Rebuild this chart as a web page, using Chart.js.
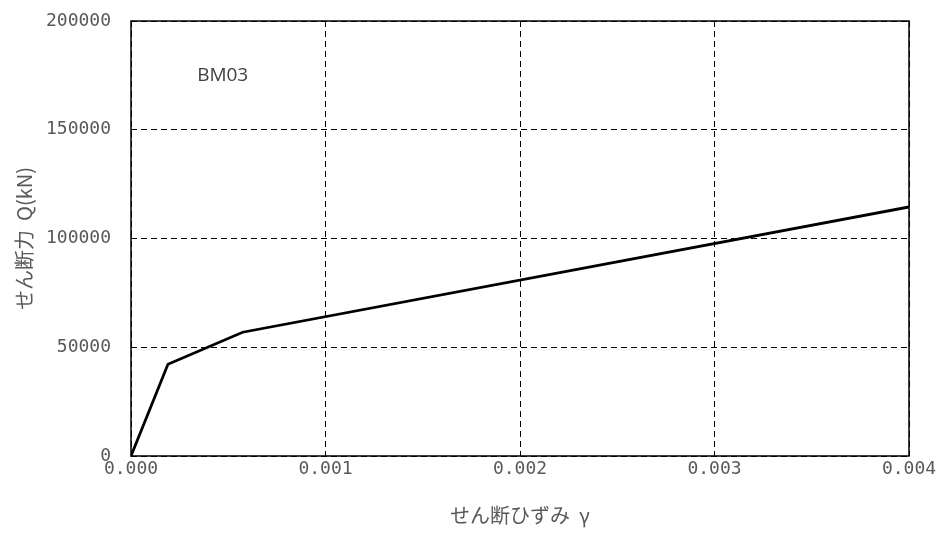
<!DOCTYPE html>
<html>
<head>
<meta charset="utf-8">
<script src="https://cdn.jsdelivr.net/npm/chart.js@4/dist/chart.umd.min.js"></script>
<style>
    html, body { margin: 0; padding: 0; background: #fff; }
    #wrap { width: 938px; height: 536px; }
</style>
</head>
<body>
<div id="wrap"><canvas id="chart" width="938" height="536"></canvas></div>
<script>
// ===== DATA =====
const strainValues = [0, 0.00019, 0.000574, 0.004];
const shearValues = [0, 42200, 56900, 114500];
const xTicks = [0, 0.001, 0.002, 0.003, 0.004];
const yTicks = [0, 50000, 100000, 150000, 200000];
const seriesLabel = "BM03";
const labelAt = [0.00034, 174700];

const tickFont = { family: "'DejaVu Sans Mono', monospace", size: 18 };
const titleFont = { family: "'Noto Sans CJK JP', sans-serif", size: 20 };

// frame round the plot area + series label
const framePlugin = {
    id: "frame",
    afterDraw(chart) {
        const { ctx, chartArea: a, scales } = chart;
        ctx.save();
        ctx.strokeStyle = "#000";
        ctx.lineWidth = 1.5;
        ctx.setLineDash([]);
        ctx.strokeRect(a.left, a.top, a.right - a.left, a.bottom - a.top);
        ctx.fillStyle = "#404040";
        ctx.font = "19px 'Open Sans', 'Liberation Sans', sans-serif";
        ctx.textBaseline = "middle";
        ctx.textAlign = "left";
        ctx.fillText(seriesLabel, scales.x.getPixelForValue(labelAt[0]), scales.y.getPixelForValue(labelAt[1]));
        ctx.restore();
    }
};

new Chart(document.getElementById("chart"), {
    type: "scatter",
    data: {
        datasets: [{
            data: strainValues.map((x, i) => ({ x: x, y: shearValues[i] })),
            showLine: true,
            borderColor: "#000",
            borderWidth: 2.8,
            pointRadius: 0,
            tension: 0,
        }],
    },
    options: {
        responsive: false,
        animation: false,
        layout: { padding: { top: 21, right: 29, left: 8, bottom: 0 } },
        plugins: { legend: { display: false }, tooltip: { enabled: false } },
        scales: {
            x: {
                type: "linear",
                min: 0,
                max: 0.004,
                afterBuildTicks: s => { s.ticks = xTicks.map(v => ({ value: v })); },
                afterFit: s => { s.height = 80; s.paddingLeft = 0; s.paddingRight = 0; },
                grid: { color: "#000", lineWidth: 1, drawTicks: false },
                border: { display: false, dash: [6, 4] },
                ticks: {
                    color: "#595959",
                    font: tickFont,
                    padding: 3,
                    maxRotation: 0,
                    callback: v => v.toFixed(3),
                },
                title: {
                    display: true,
                    text: "せん断ひずみ  γ",
                    color: "#595959",
                    font: titleFont,
                    padding: { top: 4, bottom: 9 },
                },
            },
            y: {
                type: "linear",
                min: 0,
                max: 200000,
                afterBuildTicks: s => { s.ticks = yTicks.map(v => ({ value: v })); },
                afterFit: s => { s.width = 123; s.paddingTop = 0; s.paddingBottom = 0; },
                grid: { color: "#000", lineWidth: 1, drawTicks: false },
                border: { display: false, dash: [6, 4] },
                ticks: {
                    color: "#595959",
                    font: tickFont,
                    padding: 20,
                    callback: v => String(v),
                },
                title: {
                    display: true,
                    text: "せん断力  Q(kN)",
                    color: "#595959",
                    font: titleFont,
                    padding: { bottom: 0 },
                },
            },
        },
    },
    plugins: [framePlugin],
});
</script>
</body>
</html>
